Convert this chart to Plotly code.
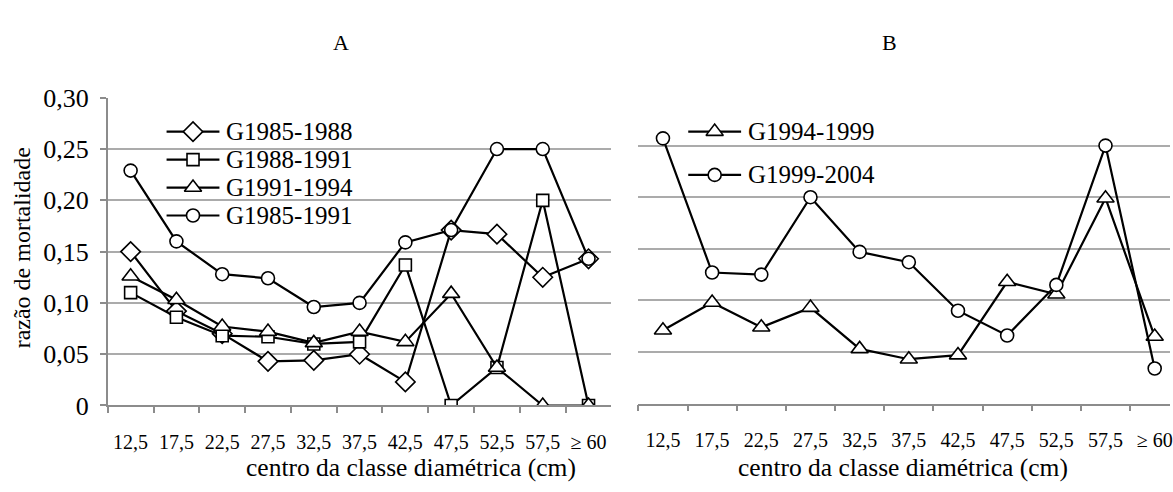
import plotly.graph_objects as go

# Diameter-class centres (cm)
categories = ["12,5", "17,5", "22,5", "27,5", "32,5", "37,5",
              "42,5", "47,5", "52,5", "57,5", "\u2265 60"]

# Panel A: mortality ratio by diameter class
g1985_1988 = [0.150, 0.092, 0.070, 0.043, 0.044, 0.050, 0.023, 0.171, 0.167, 0.125, 0.143]
g1988_1991 = [0.110, 0.086, 0.068, 0.067, 0.060, 0.062, 0.137, 0.000, 0.037, 0.200, 0.000]
g1991_1994 = [0.126, 0.103, 0.077, 0.072, 0.061, 0.072, 0.062, 0.109, 0.037, 0.000, 0.000]
g1985_1991 = [0.229, 0.160, 0.128, 0.124, 0.096, 0.100, 0.159, 0.171, 0.250, 0.250, 0.143]

# Panel B
g1994_1999 = [0.071, 0.098, 0.074, 0.093, 0.053, 0.043, 0.047, 0.118, 0.106, 0.199, 0.065]
g1999_2004 = [0.257, 0.127, 0.125, 0.200, 0.147, 0.137, 0.090, 0.066, 0.115, 0.250, 0.034]

y_tickvals = [0, 0.05, 0.10, 0.15, 0.20, 0.25, 0.30]
y_ticktext = ["0", "0,05", "0,10", "0,15", "0,20", "0,25", "0,30"]

W, H = 1173, 492
FONT = "Liberation Serif"
GRID = "#ababab"
AXIS = "#8c8c8c"
LINE_W = 2.2
MARK_LINE_W = 1.6

panel_a = [
    (g1985_1988, "G1985-1988", "diamond", 15),
    (g1988_1991, "G1988-1991", "square", 12),
    (g1991_1994, "G1991-1994", "triangle-up", 15),
    (g1985_1991, "G1985-1991", "circle", 13),
]
panel_b = [
    (g1994_1999, "G1994-1999", "triangle-up", 15),
    (g1999_2004, "G1999-2004", "circle", 13),
]


def px_x(p):
    return p / W


def px_y(p):
    return (H - p) / H


def marker(symbol, size):
    return dict(symbol=symbol, size=size, color="white",
                line=dict(color="black", width=MARK_LINE_W))


fig = go.Figure()

for xa, ya, group in (("x", "y", panel_a), ("x2", "y2", panel_b)):
    for values, name, symbol, size in group:
        fig.add_trace(go.Scatter(
            x=categories, y=values, name=name, mode="lines+markers",
            xaxis=xa, yaxis=ya, showlegend=False,
            line=dict(color="black", width=LINE_W),
            marker=marker(symbol, size),
        ))

# Hand-built legends (key line + marker + label) on a pixel-scaled overlay
annotations = []


def add_legend(group, left, top, step, key_len=53, text_gap=5):
    for i, (_, name, symbol, size) in enumerate(group):
        yy = top + i * step
        fig.add_trace(go.Scatter(
            x=[left, left + key_len], y=[yy, yy], mode="lines",
            xaxis="x3", yaxis="y3", showlegend=False, hoverinfo="skip",
            line=dict(color="black", width=LINE_W),
        ))
        fig.add_trace(go.Scatter(
            x=[left + key_len / 2], y=[yy], mode="markers",
            xaxis="x3", yaxis="y3", showlegend=False, hoverinfo="skip",
            marker=marker(symbol, size),
        ))
        annotations.append(dict(
            text=name, x=left + key_len + text_gap, y=yy, xref="x3", yref="y3",
            xanchor="left", yanchor="middle", showarrow=False,
            font=dict(family=FONT, size=25, color="black"),
        ))


add_legend(panel_a, left=167, top=125, step=29.7)
add_legend(panel_b, left=690, top=125, step=46)

xcommon = dict(
    type="category", categoryorder="array", categoryarray=categories,
    showline=True, linecolor=AXIS, linewidth=1.5,
    ticks="outside", tickson="boundaries", ticklen=6, tickcolor=AXIS, tickwidth=1.5,
    showgrid=False, zeroline=False,
    tickfont=dict(family=FONT, size=20, color="black"),
    ticklabelstandoff=18,
)

# Panel B continues past the right edge; keep the same class width
b_left, b_step = 640, 49.3
b_range_end = -0.5 + (W - b_left) / b_step

annotations += [
    dict(text="A", x=px_x(342), y=px_y(30), xref="paper", yref="paper",
         xanchor="center", yanchor="middle", showarrow=False,
         font=dict(family=FONT, size=22, color="black")),
    dict(text="B", x=px_x(892), y=px_y(30), xref="paper", yref="paper",
         xanchor="center", yanchor="middle", showarrow=False,
         font=dict(family=FONT, size=22, color="black")),
    dict(text="razão de mortalidade", x=px_x(22), y=px_y(248),
         xref="paper", yref="paper", xanchor="center", yanchor="middle",
         showarrow=False, textangle=-90,
         font=dict(family=FONT, size=24, color="black")),
    dict(text="centro da classe diamétrica (cm)", x=px_x(245), y=px_y(482),
         xref="paper", yref="paper", showarrow=False, xanchor="left", yanchor="middle",
         font=dict(family=FONT, size=25.5, color="black")),
    dict(text="centro da classe diamétrica (cm)", x=px_x(738), y=px_y(482),
         xref="paper", yref="paper", showarrow=False, xanchor="left", yanchor="middle",
         font=dict(family=FONT, size=25.5, color="black")),
]

fig.update_layout(
    width=W, height=H,
    margin=dict(l=0, r=0, t=0, b=0),
    # transparent plot area so the legend overlay does not hide the panels
    paper_bgcolor="white", plot_bgcolor="rgba(0,0,0,0)",
    showlegend=False,
    xaxis=dict(domain=[px_x(108), px_x(613)], range=[-0.5, 10.5], anchor="y", **xcommon),
    xaxis2=dict(domain=[px_x(b_left), 1.0], range=[-0.5, b_range_end], anchor="y2", **xcommon),
    yaxis=dict(
        domain=[px_y(416), px_y(89)], range=[0, 0.30], anchor="x",
        tickvals=y_tickvals, ticktext=y_ticktext,
        showline=True, linecolor=AXIS, linewidth=1.5,
        ticks="outside", ticklen=6, tickcolor=AXIS, tickwidth=1.5,
        showgrid=True, gridcolor=GRID, gridwidth=1.5, zeroline=False,
        tickfont=dict(family=FONT, size=26, color="black"),
        ticklabelstandoff=6,
    ),
    yaxis2=dict(
        domain=[px_y(414), px_y(85)], range=[0, 0.30], anchor="x2",
        tickvals=y_tickvals, showticklabels=False,
        showline=False, ticks="",
        showgrid=True, gridcolor=GRID, gridwidth=1.5, zeroline=False,
    ),
    # pixel-scaled overlay used only for the legend keys
    xaxis3=dict(domain=[0, 1], range=[0, W], visible=False, fixedrange=True,
                anchor="y3"),
    yaxis3=dict(domain=[0, 1], range=[H, 0], visible=False, fixedrange=True,
                anchor="x3"),
    annotations=annotations,
)

fig.write_html("out.html")
